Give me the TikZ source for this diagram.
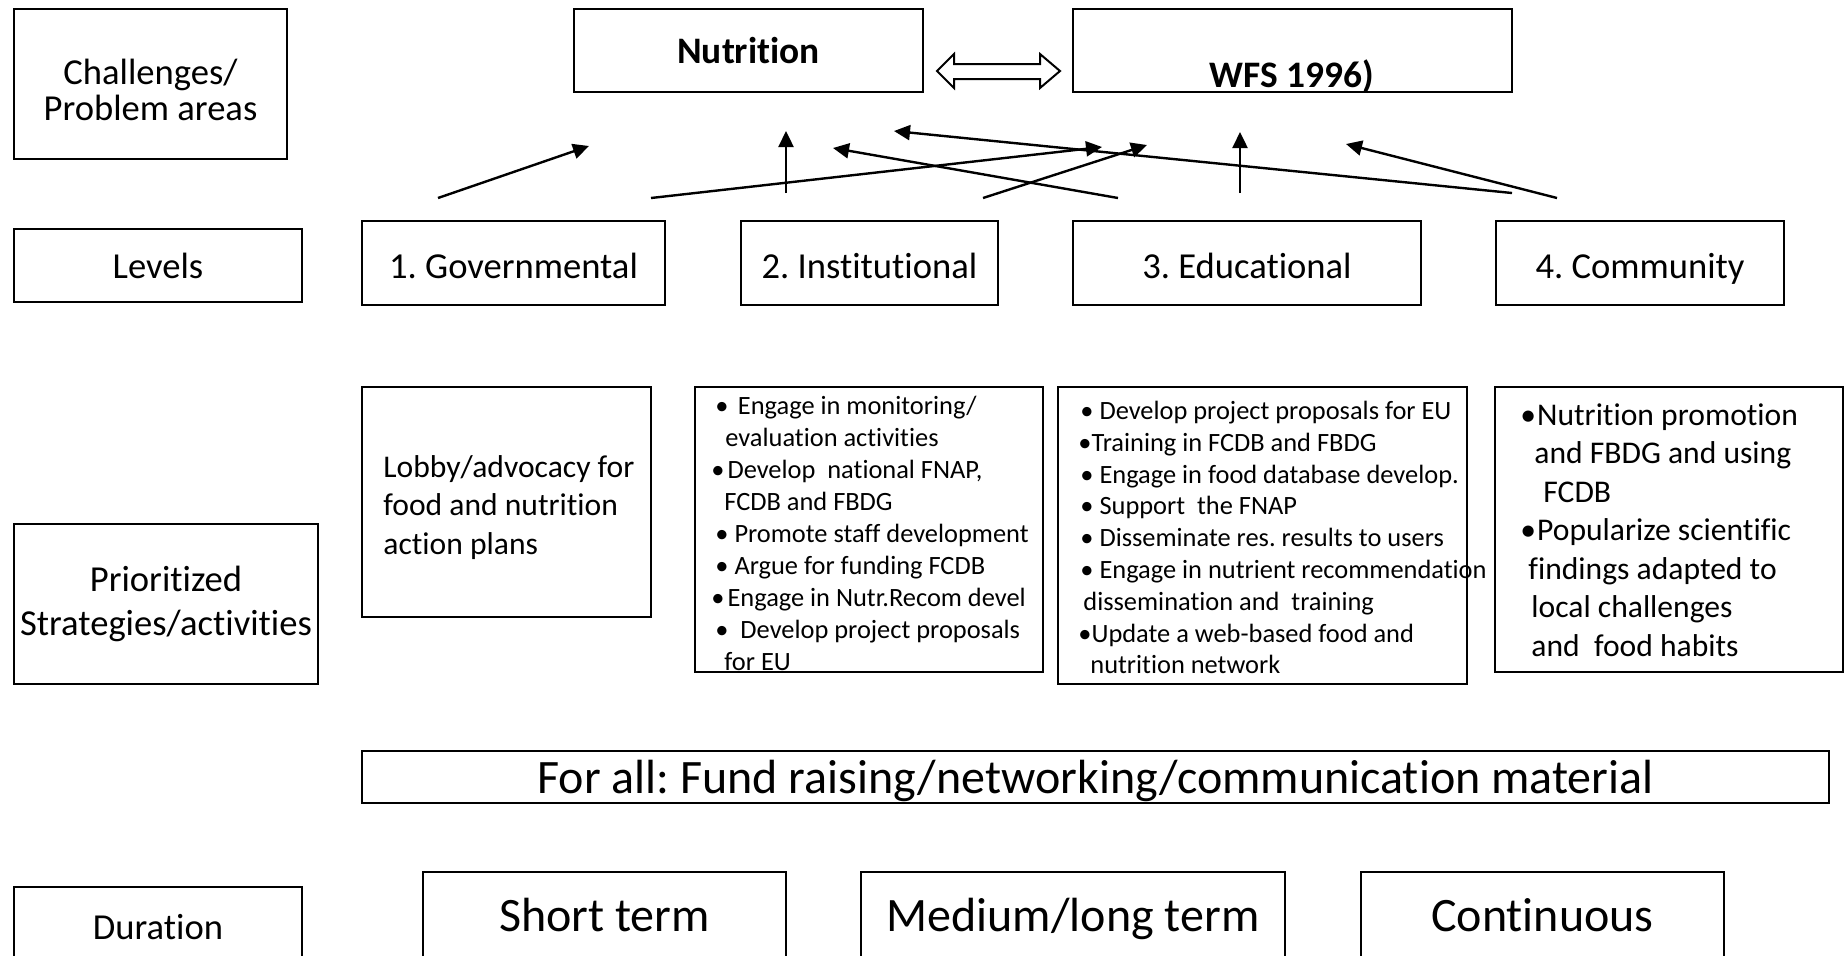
\documentclass[tikz,border=0pt]{standalone}
\usepackage{fontspec}
\setmainfont{Carlito}[Ligatures={NoCommon}]
\usetikzlibrary{arrows.meta}
\frenchspacing
\newcommand\lowtxt[2]{\raisebox{#1}[\height][0pt]{#2}}
\begin{document}
\begin{tikzpicture}[x=0.5pt,y=-0.5pt,
  box/.style={draw, line width=1.3pt, inner sep=0pt, align=center, font=\fontsize{18.3}{22}\selectfont},
  bigbox/.style={box, font=\fontsize{24}{28}\selectfont},
  boldbox/.style={box, font=\bfseries\fontsize{18.7}{22}\selectfont},
  lst/.style={anchor=base west, inner sep=0pt, font=\fontsize{13.2}{15.8}\selectfont},
  cml/.style={anchor=base west, inner sep=0pt, font=\fontsize{15.8}{16}\selectfont},
  lob/.style={anchor=base west, inner sep=0pt, font=\fontsize{15.8}{17}\selectfont},
  arr/.style={line width=1.2pt, -{Triangle[length=8pt,width=7.5pt]}},
  dbl/.style={draw, line width=1pt}
]
\useasboundingbox (0,0) rectangle (1845,955);
\clip (0,0) rectangle (1845,955);

% row 1
\node[box, minimum width=136.5pt, minimum height=75pt] (chal) at (150.5,84) {};
\node[align=center, inner sep=0pt, font=\fontsize{18.3}{18.3}\selectfont] (chalt) at (150.5,90) {Challenges/\\Problem areas};
\node[boldbox, minimum width=174.5pt, minimum height=41.5pt] (nut) at (748.5,50.5) {Nutrition};
\node[box, minimum width=219.5pt, minimum height=41.5pt] (wfs) at (1292.5,50.5) {};
\node[anchor=base, inner sep=0pt, font=\bfseries\fontsize{18.7}{22}\selectfont] (wfst) at (1292,87) {WFS 1996)};
\path[dbl] (937,71) -- (954,54) -- (954,64) -- (1040,64) -- (1040,54) -- (1060,71)
  -- (1040,88) -- (1040,79) -- (954,79) -- (954,88) -- cycle;

% row 2
\node[box, minimum width=144pt, minimum height=36.5pt] (lev) at (158,265.5) {Levels};
\node[box, minimum width=151.5pt, minimum height=42pt] (gov) at (513.5,263) {\lowtxt{-1.2pt}{1. Governmental}};
\node[box, minimum width=128.5pt, minimum height=42pt] (inst) at (869.5,263) {\lowtxt{-1.2pt}{2. Institutional}};
\node[box, minimum width=174pt, minimum height=42pt] (edu) at (1247,263) {\lowtxt{-1.2pt}{3. Educational}};
\node[box, minimum width=144pt, minimum height=42pt] (com) at (1640,263) {\lowtxt{-1.2pt}{4. Community}};

% arrows
\coordinate (a1s) at (438,198);  \coordinate (a1e) at (589,146);
\coordinate (a2s) at (651,198);  \coordinate (a2e) at (1102,147);
\coordinate (a3s) at (786,193);  \coordinate (a3e) at (786,131);
\coordinate (a4s) at (1118,198); \coordinate (a4e) at (833,148);
\coordinate (a5s) at (983,198);  \coordinate (a5e) at (1147,145);
\coordinate (a6s) at (1240,193); \coordinate (a6e) at (1240,132);
\coordinate (a7s) at (1512,193); \coordinate (a7e) at (894,131);
\coordinate (a8s) at (1557,198); \coordinate (a8e) at (1346,144);
\foreach \i in {1,...,8} { \draw[arr] (a\i s) -- (a\i e); }

% row 3
\node[box, minimum width=152pt, minimum height=80pt] (prio) at (166,604) {Prioritized\\Strategies/activities};
\node[box, minimum width=144.5pt, minimum height=115pt] (lobby) at (506.5,502) {};
\node[box, minimum width=174pt, minimum height=142.5pt] (instl) at (869,529.5) {};
\node[box, minimum width=204.5pt, minimum height=148.5pt] (edul) at (1262.5,535.5) {};
\node[box, minimum width=174pt, minimum height=142.5pt] (coml) at (1669,529.5) {};

\node[lob] (lb1) at (383,477) {Lobby/advocacy for};
\node[lob] (lb2) at (383,515.5) {food and nutrition};
\node[lob] (lb3) at (383,554) {action plans};

\node[lst] (i1) at (715,414) {•\ \hspace{1.7pt}Engage in monitoring/};
\node[lst] (i2) at (725,446) {evaluation activities};
\node[lst] (i3) at (711,478) {•\hspace{1.5pt}Develop\ \ national FNAP,};
\node[lst] (i4) at (724,510) {FCDB and FBDG};
\node[lst] (i5) at (715,542) {• Promote staff development};
\node[lst] (i6) at (715,574) {• Argue for funding FCDB};
\node[lst] (i7) at (711,606) {•\hspace{1.5pt}Engage in Nutr.Recom devel};
\node[lst] (i8) at (715,638) {•\ \ Develop project proposals};
\node[lst] (i9) at (724,670) {for EU};

\node[lst] (e1) at (1080,419) {• Develop project proposals for EU};
\node[lst] (e2) at (1078,451) {•Training in FCDB and FBDG};
\node[lst] (e3) at (1080,483) {• Engage in food database develop.};
\node[lst] (e4) at (1080,514) {• Support\ \ the FNAP};
\node[lst] (e5) at (1080,546) {• Disseminate res. results to users};
\node[lst] (e6) at (1080,578) {• Engage in nutrient recommendation};
\node[lst] (e7) at (1083,610) {dissemination and\ \ training};
\node[lst] (e8) at (1078,642) {•Update a web-based food and};
\node[lst] (e9) at (1090,673) {nutrition network};

\node[cml] (c1) at (1520,425) {•\hspace{0.5pt}Nutrition promotion};
\node[cml] (c2) at (1534,463.5) {and FBDG and using};
\node[cml] (c3) at (1543,502) {FCDB};
\node[cml] (c4) at (1520,540.5) {•\hspace{0.5pt}Popularize scientific};
\node[cml] (c5) at (1528,579) {findings adapted to};
\node[cml] (c6) at (1531,617.5) {local challenges};
\node[cml] (c7) at (1531,656) {and\ \ food habits};

% row 4
\node[bigbox, minimum width=733.5pt, minimum height=26pt] (forall) at (1095.5,777) {\lowtxt{0pt}{For all: Fund raising/networking/communication material}};

% row 5
\node[box, minimum width=144pt, minimum height=40pt] (dur) at (158,927) {Duration};
\node[bigbox, minimum width=181.5pt, minimum height=43pt] (short) at (604.5,915) {Short term};
\node[bigbox, minimum width=212pt, minimum height=43pt] (med) at (1073,915) {\lowtxt{0pt}{Medium/long term}};
\node[bigbox, minimum width=181.5pt, minimum height=43pt] (cont) at (1542.5,915) {Continuous};
\end{tikzpicture}
\end{document}
